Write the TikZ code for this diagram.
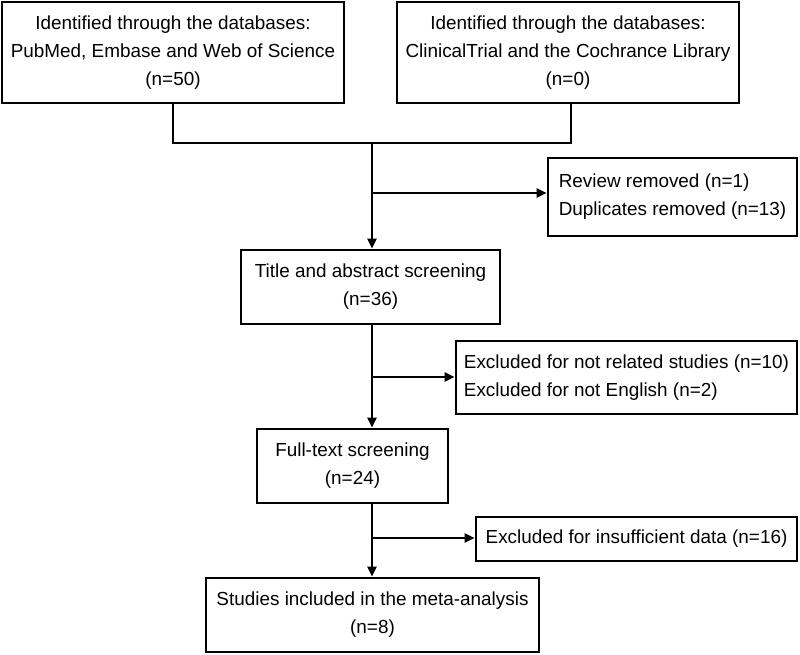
\documentclass[tikz,border=0pt]{standalone}
\usepackage{fontspec}
\setmainfont{Liberation Sans}
\usetikzlibrary{arrows.meta}
\begin{document}
\begin{tikzpicture}[x=1pt,y=-1pt,
  box/.style={draw, line width=2.9pt, inner sep=0pt, align=center,
    font=\fontsize{18.9}{28}\selectfont, color=black},
  lbox/.style={box, align=left},
  conn/.style={line width=2.9pt},
  arr/.style={conn, -{Triangle[length=10pt,width=9pt]}}]
\useasboundingbox (0,0) rectangle (800,655);
\node[box, minimum width=342pt, minimum height=101pt] (db1) at (173,52.5)
  {Identified through the databases:\\PubMed, Embase and Web of Science\\(n=50)};
\node[box, minimum width=342pt, minimum height=101pt] (db2) at (568,52.5)
  {Identified through the databases:\\ClinicalTrial and the Cochrance Library\\(n=0)};
\node[lbox, minimum width=249pt, minimum height=78pt] (rev) at (672.5,197)
  {Review removed (n=1)\\Duplicates removed (n=13)};
\node[box, minimum width=259pt, minimum height=74pt] (title) at (370.5,287)
  {Title and abstract screening\\(n=36)};
\node[lbox, minimum width=341pt, minimum height=73pt] (excl) at (626.5,377.5)
  {Excluded for not related studies (n=10)\\Excluded for not English (n=2)};
\node[box, minimum width=191pt, minimum height=74pt] (full) at (352.5,466)
  {Full-text screening\\(n=24)};
\node[box, minimum width=321pt, minimum height=44pt] (insuf) at (636.5,539)
  {Excluded for insufficient data (n=16)};
\node[box, minimum width=333pt, minimum height=74pt] (final) at (372.5,615)
  {Studies included in the meta-analysis\\(n=8)};
\coordinate (j0) at (372,143);
\coordinate (d2) at (571,143);
\coordinate (b1) at (372,193);
\coordinate (b2) at (372,377);
\coordinate (b3) at (372,538);
\draw[conn] (db1.south) |- (d2) -- (d2 |- db2.south);
\draw[arr] (j0) -- (j0 |- title.north);
\draw[arr] (b1) -- (b1 -| rev.west);
\draw[arr] (j0 |- title.south) -- (j0 |- full.north);
\draw[arr] (b2) -- (b2 -| excl.west);
\draw[arr] (j0 |- full.south) -- (j0 |- final.north);
\draw[arr] (b3) -- (b3 -| insuf.west);
\end{tikzpicture}
\end{document}
